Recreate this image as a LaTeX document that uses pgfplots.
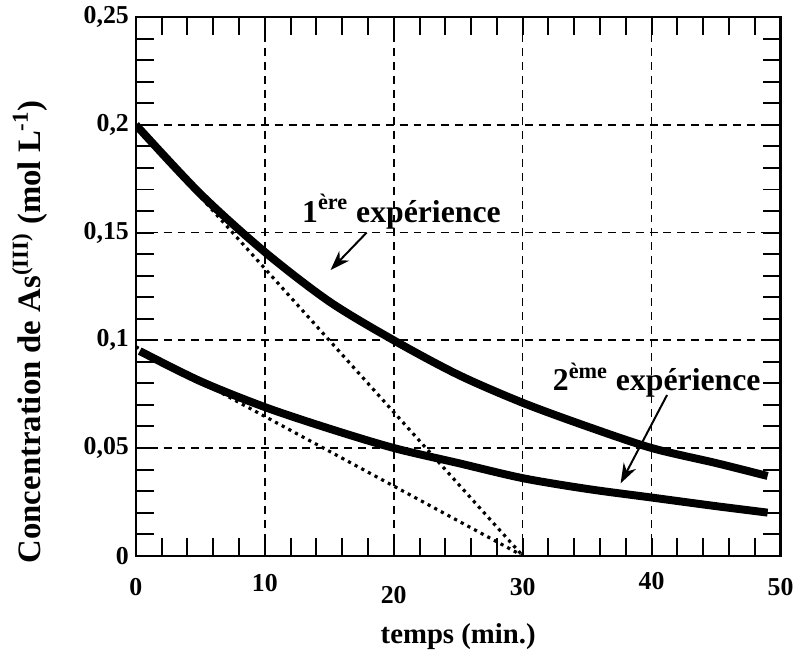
\documentclass[border=0pt]{standalone}
\usepackage{fontspec}
\setmainfont{Liberation Serif}
\usepackage{pgfplots}
\pgfplotsset{compat=1.18}
\usetikzlibrary{arrows.meta}

\newcommand{\shiftlab}[2]{\raisebox{#1}[\height][\depth]{#2}}

\begin{document}
\begin{tikzpicture}
\begin{axis}[
    name=ax,
    scale only axis,
    width=325pt,
    height=271.5pt,
    xmin=0, xmax=50,
    ymin=0, ymax=0.25,
    xtick={0,10,20,30,40,50},
    xticklabels={0,\shiftlab{2pt}{10},\shiftlab{-4pt}{20},30,\shiftlab{3pt}{40},50},
    ytick={0,0.05,0.1,0.15,0.2,0.25},
    yticklabels={0,{0,05},{0,1},{0,15},{0,2},{0,25}},
    minor x tick num=4,
    minor y tick num=4,
    tick align=inside,
    major tick length=9pt,
    minor tick length=9pt,
    every tick/.style={black, line width=1pt},
    axis line style={line width=1.2pt},
    grid=major,
    major grid style={black, line width=0.8pt, dash pattern=on 4pt off 3pt},
    ticklabel style={font=\fontsize{13}{15}\selectfont\bfseries},
    xticklabel style={yshift=-8pt},
    xlabel={temps (min.)},
    xlabel style={font=\fontsize{14.5}{16}\selectfont\bfseries,
        at={(axis description cs:0.5,0)}, anchor=center, yshift=-41pt},
    ylabel={Concentration de As\textsuperscript{(III)} (mol L\textsuperscript{-1})},
    ylabel style={font=\fontsize{16.5}{18}\selectfont\bfseries,
        at={(axis description cs:-0.165,0.416)}, anchor=center},
]
    % tangentes a l'origine
    \addplot[black, line width=1.6pt, dash pattern=on 1.6pt off 2.2pt] coordinates {(0,0.2) (30,0)};
    \addplot[black, line width=1.6pt, dash pattern=on 1.6pt off 2.2pt] coordinates {(0,0.097) (30,0)};

    % 1ere experience
    \addplot[black, line width=4pt, smooth] coordinates {
        (0,0.200) (5,0.168) (10,0.141) (15,0.118) (20,0.100) (25,0.084)
        (30,0.071) (35,0.060) (40,0.050) (45,0.043) (49,0.037)
    };
    % 2eme experience
    \addplot[black, line width=4pt, smooth] coordinates {
        (0.3,0.095) (5,0.081) (10,0.069) (15,0.059) (20,0.050) (25,0.043)
        (30,0.036) (35,0.031) (40,0.027) (45,0.023) (49,0.020)
    };

    \node[font=\fontsize{16}{18}\selectfont\bfseries] at (axis cs:20.6,0.1598)
        {1\textsuperscript{ère} expérience};
    \draw[-{Stealth[length=10pt,width=7pt]}, line width=1pt] (axis cs:17.9,0.150) -- (axis cs:15.1,0.1326);
    \node[font=\fontsize{16}{18}\selectfont\bfseries] at (axis cs:40.4,0.0815)
        {2\textsuperscript{ème} expérience};
    \draw[-{Stealth[length=10pt,width=7pt]}, line width=1pt] (axis cs:41.2,0.0746) -- (axis cs:37.6,0.0336);
\end{axis}
\path ([shift={(-68.5pt,-54pt)}]ax.south west) rectangle ([shift={(6.5pt,8.5pt)}]ax.north east);
\end{tikzpicture}
\end{document}
